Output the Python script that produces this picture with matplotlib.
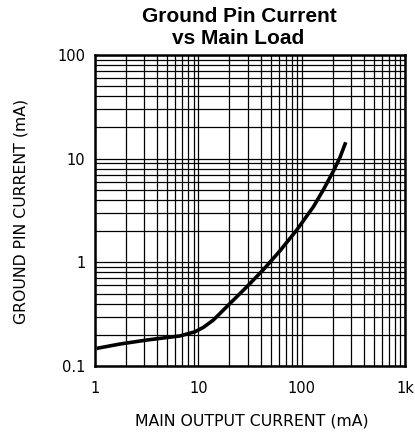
import matplotlib
matplotlib.use("Agg")
import matplotlib.pyplot as plt
from matplotlib.ticker import LogLocator, FixedLocator, NullFormatter
import numpy as np

# Data
load_ma = [1.04, 1.75, 3.16, 6.65, 9.29, 11.2, 14.0, 20.3, 29.4, 42.6, 62,
           89.6, 130, 162, 203, 235, 267]
gnd_ma = [0.148, 0.163, 0.178, 0.195, 0.214, 0.236, 0.278, 0.402, 0.58, 0.85, 1.3,
          2.05, 3.44, 5.0, 7.6, 10.3, 14.4]

x_ticks = [1, 10, 100, 1000]
x_labels = ["1", "10", "100", "1k"]
y_ticks = [0.1, 1, 10, 100]
y_labels = ["0.1", "1", "10", "100"]

fig = plt.figure(figsize=(4.15, 4.41), dpi=100)
ax = fig.add_axes([95/415, 1-366/441, 310/415, 311/441])

ax.plot(load_ma, gnd_ma, color="black", lw=2.6, solid_capstyle="butt",
        solid_joinstyle="round", zorder=5)

ax.set_xscale("log")
ax.set_yscale("log")
ax.set_xlim(1, 1000)
ax.set_ylim(0.1, 100)

ax.xaxis.set_major_locator(FixedLocator(x_ticks))
ax.yaxis.set_major_locator(FixedLocator(y_ticks))
ax.xaxis.set_minor_locator(LogLocator(base=10, subs=np.arange(2, 10)))
ax.yaxis.set_minor_locator(LogLocator(base=10, subs=np.arange(2, 10)))
ax.xaxis.set_minor_formatter(NullFormatter())
ax.yaxis.set_minor_formatter(NullFormatter())

tick_font = dict(family="DejaVu Sans", size=10.5)
ax.set_xticklabels(x_labels, fontdict=tick_font)
ax.set_yticklabels(y_labels, fontdict=tick_font)
ax.tick_params(which="both", length=0)
ax.tick_params(axis="x", pad=11)
ax.tick_params(axis="y", pad=7)

ax.grid(True, which="both", color="black", lw=0.9)
for s in ax.spines.values():
    s.set_linewidth(1.8)

fig.text(252/415, 1-421/441, "MAIN OUTPUT CURRENT (mA)", family="DejaVu Sans",
         size=11.3, ha="center", va="center")
fig.text(21/415, 1-211/441, "GROUND PIN CURRENT (mA)", family="DejaVu Sans",
         size=11.3, ha="center", va="center", rotation=90)

fig.text(239/415, 1-17/441, "Ground Pin Current", ha="center", va="center",
         family="Liberation Sans", weight="bold", size=15)
fig.text(238/415, 1-38/441, "vs Main Load", ha="center", va="center",
         family="Liberation Sans", weight="bold", size=15)

fig.savefig("out.png", dpi=100)
